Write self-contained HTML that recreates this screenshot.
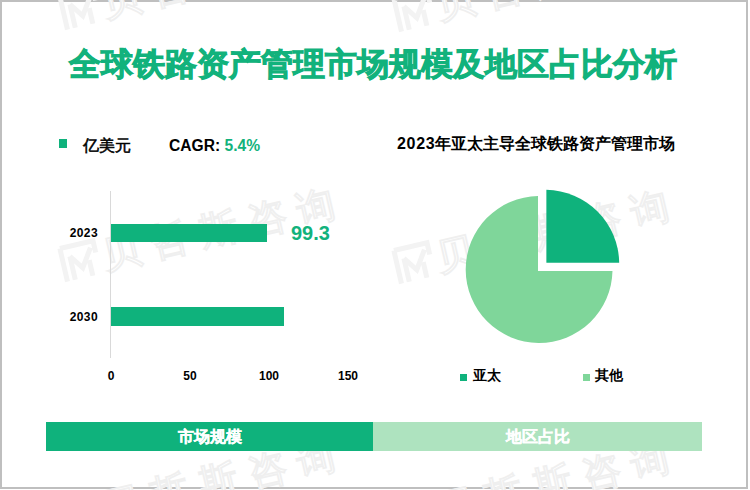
<!DOCTYPE html>
<html><head><meta charset="utf-8">
<style>
html,body{margin:0;padding:0;background:#fff;}
body{width:750px;height:490px;position:relative;overflow:hidden;font-family:"Liberation Sans",sans-serif;}
.abs{position:absolute;white-space:nowrap;}
#frame{position:absolute;left:0;top:0;width:748px;height:489px;box-sizing:border-box;border:2px solid #bfbfbf;}
#title{left:0;width:746px;top:40px;text-align:center;font-size:32px;font-weight:bold;color:#12b27c;line-height:48px;-webkit-text-stroke:0.9px #12b27c;}
.sq{position:absolute;background:#0fb27c;}
.t16{font-size:16px;line-height:20px;}
.b{font-weight:bold;}
.g{color:#12b27c;}
.axis{position:absolute;background:#d9d9d9;}
.bar{position:absolute;background:#0fb27c;}
.yl{font-size:12px;font-weight:bold;line-height:16px;text-align:right;width:60px;letter-spacing:0.4px;}
.xl{font-size:12px;font-weight:bold;line-height:16px;text-align:center;width:40px;}
.tab{position:absolute;top:422px;height:29px;color:#fff;font-weight:bold;font-size:16px;line-height:29px;text-align:center;-webkit-text-stroke:0.3px #fff;}
</style></head>
<body>
<div id="frame"></div>
<svg class="abs" style="left:0;top:0;" width="750" height="490">
<defs>
<g id="wm" transform="rotate(-13)">
  <path d="M-18 -16 L16 -16 L16 -4 M-18 -16 L-18 18 M-10 -6 L0 8 L12 -10 M-10 -6 L-10 18 M8 2 L8 18" fill="none" stroke="#f3f3f3" stroke-width="5"/>
  <text x="22" y="14" font-family="Liberation Sans" font-size="38" font-weight="bold" fill="#ffffff" stroke="#efefef" stroke-width="0.6" letter-spacing="12">贝哲斯咨询</text>
</g>
</defs>
<use href="#wm" x="81" y="8"/>
<use href="#wm" x="81" y="260"/>
<use href="#wm" x="81" y="512"/>
<use href="#wm" x="415" y="10"/>
<use href="#wm" x="415" y="262"/>
<use href="#wm" x="415" y="514"/>
</svg>

<div id="title" class="abs">全球铁路资产管理市场规模及地区占比分析</div>

<div class="sq" style="left:59px;top:139px;width:8px;height:9px;"></div>
<div class="abs t16" style="left:83px;top:136px;-webkit-text-stroke:0.55px #000;">亿美元</div>
<div class="abs b" style="left:169px;top:136px;font-size:15.6px;line-height:20px;">CAGR: <span class="g">5.4%</span></div>

<div class="axis" style="left:110px;top:191px;width:1px;height:167px;"></div>
<div class="bar" style="left:111px;top:224px;width:156px;height:18px;"></div>
<div class="bar" style="left:111px;top:307px;width:173px;height:19px;"></div>
<div class="abs yl" style="left:38px;top:225px;">2023</div>
<div class="abs yl" style="left:38px;top:309px;">2030</div>
<div class="abs b g" style="left:291px;top:221px;font-size:20px;line-height:24px;">99.3</div>
<div class="abs xl" style="left:91px;top:368px;">0</div>
<div class="abs xl" style="left:170px;top:368px;">50</div>
<div class="abs xl" style="left:249px;top:368px;">100</div>
<div class="abs xl" style="left:328px;top:368px;">150</div>

<div class="abs t16 b" style="left:397px;top:134px;"><span style="letter-spacing:0.7px">2023</span>年亚太主导全球铁路资产管理市场</div>
<svg class="abs" style="left:0;top:0;" width="750" height="490">
  <path d="M538.0 196.11 L538.0 271.0 L612.48 271.0 A73.4 73.4 0 1 1 538.0 196.11 Z" fill="#7fd69a"/>
  <path d="M546.4 262.7 L546.4 189.81 A74 74 0 0 1 619.19 262.7 Z" fill="#0fb27c"/>
</svg>
<div class="sq" style="left:460px;top:374px;width:7px;height:7px;"></div>
<div class="abs b" style="left:473px;top:366px;font-size:14px;line-height:18px;">亚太</div>
<div class="sq" style="left:583px;top:374px;width:7px;height:7px;background:#7fd69a;"></div>
<div class="abs b" style="left:595px;top:366px;font-size:14px;line-height:18px;">其他</div>

<div class="tab" style="left:46px;width:327px;background:#0fb27c;">市场规模</div>
<div class="tab" style="left:373px;width:329px;background:#aee3bf;">地区占比</div>
</body></html>
